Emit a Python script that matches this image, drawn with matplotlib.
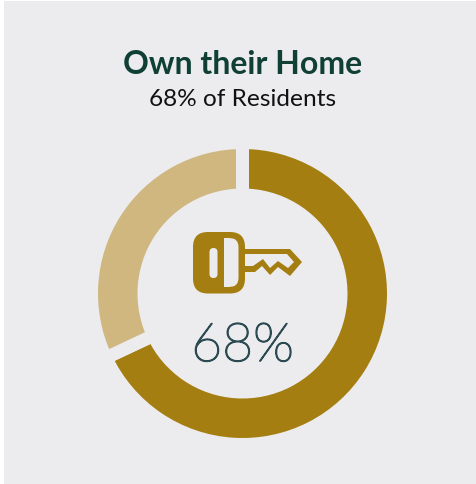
import matplotlib
matplotlib.use('Agg')
import matplotlib.pyplot as plt
import matplotlib.patheffects as pe
from matplotlib.patches import Rectangle, FancyBboxPatch, Polygon

## data
title = 'Own their Home'
subtitle = '68% of Residents'
center_label = '68%'
shares = [68, 32]
share_colors = ['#A47E10', '#CFB77F']

BG = '#ECECEE'
W, H = 477, 484
GAP = 13  # px between the two slices

fig = plt.figure(figsize=(W / 100, H / 100), dpi=100, facecolor='white')
ax = fig.add_axes([0, 0, 1, 1])

## pie first, it resets the limits
outer = 144.5 + GAP / 2
inner = 105 - GAP / 2
ax.pie(shares, colors=share_colors, startangle=90, counterclock=False,
       center=(242.5, H - 293.5), radius=outer,
       wedgeprops=dict(width=outer - inner, edgecolor=BG, linewidth=GAP * 0.72, zorder=2))
ax.set_xlim(0, W)
ax.set_ylim(0, H)
ax.set_aspect('equal')
ax.axis('off')

ax.add_patch(Rectangle((4, 0), W - 4, H - 1, facecolor=BG, edgecolor='none', zorder=1))


## key icon, coordinates in image pixels (y down)
def flip(points):
    return [(x, H - y) for x, y in points]


def rounded(x0, y0, x1, y1, r, color):
    ax.add_patch(FancyBboxPatch((x0 + r, H - y1 + r), x1 - x0 - 2 * r, y1 - y0 - 2 * r,
                                boxstyle='round,pad=%f,rounding_size=%f' % (r, r),
                                facecolor=color, edgecolor='none', zorder=4))


blade_outer = [(240, 249), (290, 249), (302, 262), (290, 276), (278, 267), (270, 275),
               (262, 266), (255, 272), (240, 272)]
blade_inner = [(240, 254), (287, 254), (294, 262), (288, 268), (278, 261), (270, 268),
               (263, 259), (253, 266), (240, 266)]
ax.add_patch(Polygon(flip(blade_outer), closed=True, facecolor=share_colors[0], edgecolor='none', zorder=3))
ax.add_patch(Polygon(flip(blade_inner), closed=True, facecolor=BG, edgecolor='none', zorder=3))

rounded(193, 232, 245, 293.5, 15, share_colors[0])
rounded(209.5, 248, 217.5, 278, 4, BG)
rounded(224, 238, 238.5, 287, 9, BG)
ax.add_patch(Rectangle((224, H - 287), 6, 49, facecolor=BG, edgecolor='none', zorder=4))

## text
ax.text(242.5, H - 74, title, ha='center', va='baseline', family='Lato', fontweight='bold',
        fontsize=23, color='#0F3F35', zorder=5)
ax.text(242.5, H - 105.5, subtitle, ha='center', va='baseline', family='Lato', fontweight='normal',
        fontsize=17.6, color='#111111', zorder=5)
num = ax.text(242.5, H - 361, center_label, ha='center', va='baseline', family='Lato', fontweight='light',
              fontsize=38.5, color='#2C4A52', zorder=5)
## the light cut comes out too thin, thicken it a bit
num.set_path_effects([pe.withStroke(linewidth=1.1, foreground='#2C4A52')])

fig.savefig('out.png', dpi=100, facecolor='white')
